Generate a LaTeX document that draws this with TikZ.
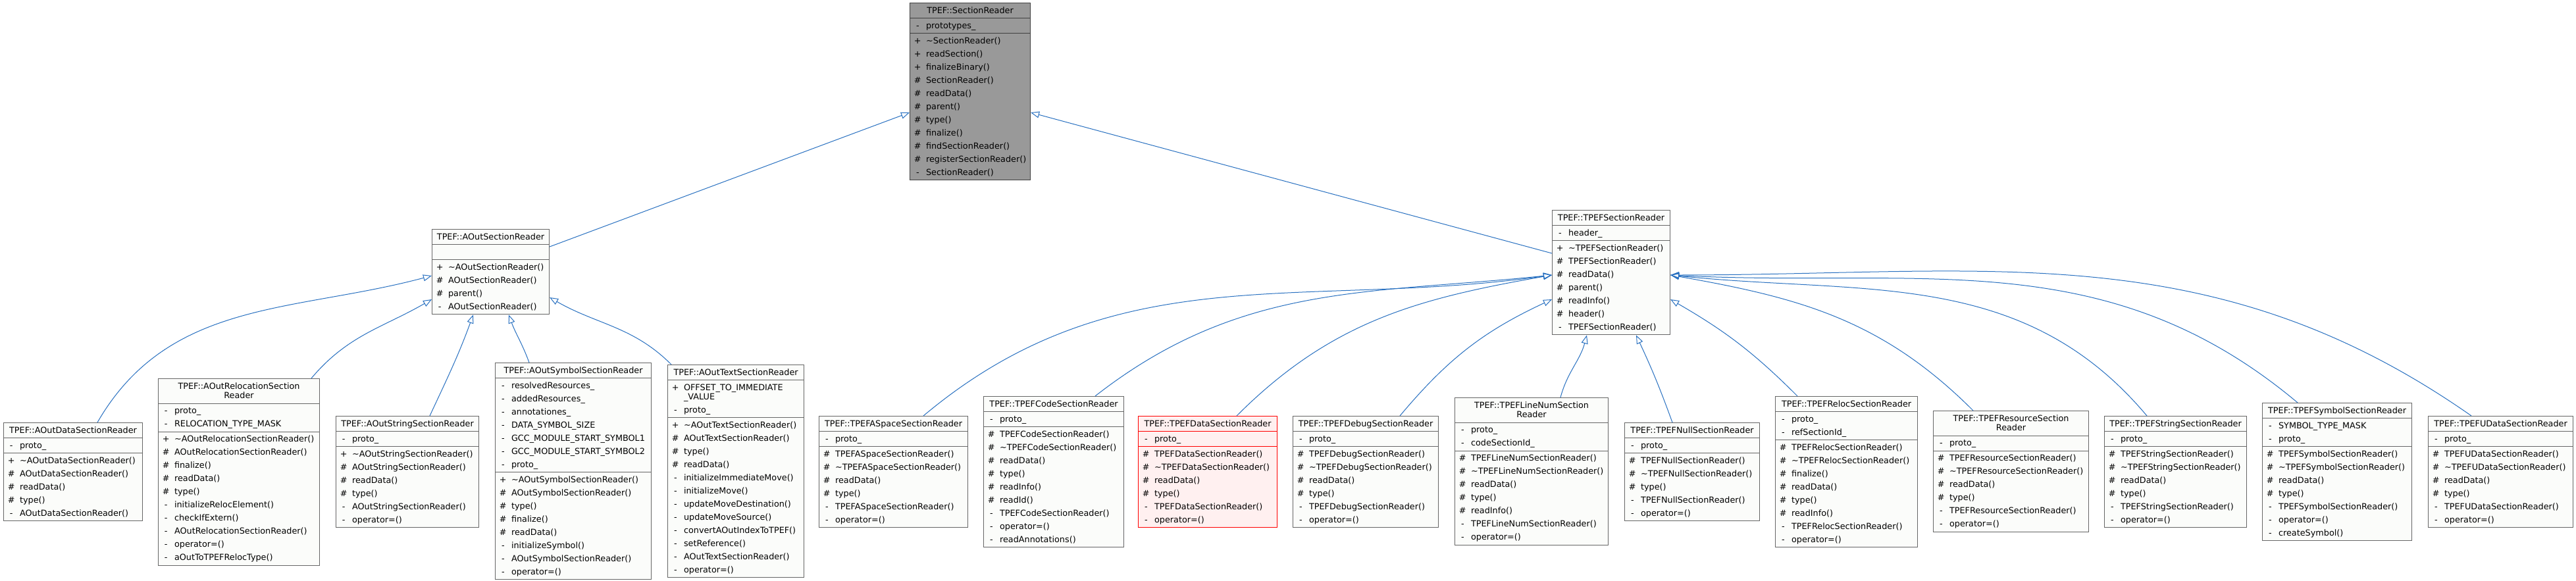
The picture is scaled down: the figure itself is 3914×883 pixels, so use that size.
\documentclass[tikz,border=0pt]{standalone}
\usepackage{fontspec}
\setmainfont{DejaVu Sans}
\usetikzlibrary{arrows.meta, shapes.multipart, calc}

\definecolor{boxline}{RGB}{102,102,102}
\definecolor{boxfill}{RGB}{251,252,250}
\definecolor{baseedge}{RGB}{64,64,64}
\definecolor{basefill}{RGB}{153,153,153}
\definecolor{hilite}{RGB}{255,0,0}
\definecolor{hilitefill}{RGB}{255,240,240}
\definecolor{inhblue}{RGB}{40,112,192}

\newcommand\mlist[1]{\begin{tabular}{@{}l@{}}#1\end{tabular}}
\newcommand\ctitle[1]{\begin{tabular}{@{}c@{}}#1\end{tabular}}
\newcommand\memrow[2]{\makebox[7.75pt][c]{#1}\hspace{2.5pt}#2}
\newcommand\mpub[1]{\memrow{+}{#1}}
\newcommand\mpro[1]{\memrow{\#}{#1}}
\newcommand\mpri[1]{\memrow{-}{#1}}
\newcommand\tld{\textasciitilde}

\tikzset{
	classbox/.style={rectangle split, rectangle split parts=3,
		rectangle split part align={center,left,left}, draw=boxline, fill=boxfill,
		line width=0.55pt, inner xsep=2pt, inner ysep=0.5pt, anchor=north west,
		font=\fontsize{6.4}{10}\selectfont},
	baseclass/.style={classbox, draw=baseedge, fill=basefill},
	current/.style={classbox, draw=hilite, fill=hilitefill},
	inherit/.style={draw=inhblue, line width=0.5pt, -{Triangle[open, length=6.5pt, width=5pt]}}
}

\begin{document}
\begin{tikzpicture}[x=0.5pt, y=0.5pt]
	\useasboundingbox (0,0) rectangle (3914,-883);

	% Root class
	\node[baseclass, minimum width=91.5pt] (secRd) at (1382,-4) {\ctitle{TPEF::SectionReader}
		\nodepart{two}\mlist{\mpri{prototypes\_}}
		\nodepart{three}\mlist{\mpub{\tld SectionReader()}\\ \mpub{readSection()}\\ \mpub{finalizeBinary()}\\
			\mpro{SectionReader()}\\ \mpro{readData()}\\ \mpro{parent()}\\ \mpro{type()}\\ \mpro{finalize()}\\
			\mpro{findSectionReader()}\\ \mpro{registerSectionReader()}\\ \mpri{SectionReader()}}};

	% Middle layer
	\node[classbox, minimum width=89pt] (aoutRd) at (656,-348) {\ctitle{TPEF::AOutSectionReader}
		\nodepart{two}\mlist{\mbox{}}
		\nodepart{three}\mlist{\mpub{\tld AOutSectionReader()}\\ \mpro{AOutSectionReader()}\\ \mpro{parent()}\\
			\mpri{AOutSectionReader()}}};
	\node[classbox, minimum width=89.5pt] (tpefRd) at (2358,-319) {\ctitle{TPEF::TPEFSectionReader}
		\nodepart{two}\mlist{\mpri{header\_}}
		\nodepart{three}\mlist{\mpub{\tld TPEFSectionReader()}\\ \mpro{TPEFSectionReader()}\\ \mpro{readData()}\\
			\mpro{parent()}\\ \mpro{readInfo()}\\ \mpro{header()}\\ \mpri{TPEFSectionReader()}}};

	% AOut readers
	\node[classbox, minimum width=105.5pt] (aoutData) at (5,-642) {\ctitle{TPEF::AOutDataSectionReader}
		\nodepart{two}\mlist{\mpri{proto\_}}
		\nodepart{three}\mlist{\mpub{\tld AOutDataSectionReader()}\\ \mpro{AOutDataSectionReader()}\\ \mpro{readData()}\\
			\mpro{type()}\\ \mpri{AOutDataSectionReader()}}};
	\node[classbox, minimum width=122.5pt] (aoutReloc) at (240,-575) {\ctitle{TPEF::AOutRelocationSection\\[-2.75pt] Reader}
		\nodepart{two}\mlist{\mpri{proto\_}\\ \mpri{RELOCATION\_TYPE\_MASK}}
		\nodepart{three}\mlist{\mpub{\tld AOutRelocationSectionReader()}\\ \mpro{AOutRelocationSectionReader()}\\
			\mpro{finalize()}\\ \mpro{readData()}\\ \mpro{type()}\\ \mpri{initializeRelocElement()}\\ \mpri{checkIfExtern()}\\
			\mpri{AOutRelocationSectionReader()}\\ \mpri{operator=()}\\ \mpri{aOutToTPEFRelocType()}}};
	\node[classbox, minimum width=108.5pt] (aoutString) at (510,-632) {\ctitle{TPEF::AOutStringSectionReader}
		\nodepart{two}\mlist{\mpri{proto\_}}
		\nodepart{three}\mlist{\mpub{\tld AOutStringSectionReader()}\\ \mpro{AOutStringSectionReader()}\\ \mpro{readData()}\\
			\mpro{type()}\\ \mpri{AOutStringSectionReader()}\\ \mpri{operator=()}}};
	\node[classbox, minimum width=118.5pt] (aoutSymbol) at (752,-551) {\ctitle{TPEF::AOutSymbolSectionReader}
		\nodepart{two}\mlist{\mpri{resolvedResources\_}\\ \mpri{addedResources\_}\\ \mpri{annotationes\_}\\
			\mpri{DATA\_SYMBOL\_SIZE}\\ \mpri{GCC\_MODULE\_START\_SYMBOL1}\\ \mpri{GCC\_MODULE\_START\_SYMBOL2}\\ \mpri{proto\_}}
		\nodepart{three}\mlist{\mpub{\tld AOutSymbolSectionReader()}\\ \mpro{AOutSymbolSectionReader()}\\ \mpro{type()}\\
			\mpro{finalize()}\\ \mpro{readData()}\\ \mpri{initializeSymbol()}\\ \mpri{AOutSymbolSectionReader()}\\ \mpri{operator=()}}};
	\node[classbox, minimum width=103.5pt] (aoutText) at (1014,-554) {\ctitle{TPEF::AOutTextSectionReader}
		\nodepart{two}\mlist{\mpub{OFFSET\_TO\_IMMEDIATE}\\[-3pt] \memrow{}{\_VALUE}\\ \mpri{proto\_}}
		\nodepart{three}\mlist{\mpub{\tld AOutTextSectionReader()}\\ \mpro{AOutTextSectionReader()}\\ \mpro{type()}\\
			\mpro{readData()}\\ \mpri{initializeImmediateMove()}\\ \mpri{initializeMove()}\\ \mpri{updateMoveDestination()}\\
			\mpri{updateMoveSource()}\\ \mpri{convertAOutIndexToTPEF()}\\ \mpri{setReference()}\\
			\mpri{AOutTextSectionReader()}\\ \mpri{operator=()}}};

	% TPEF readers
	\node[classbox, minimum width=113pt] (tpefASpace) at (1244,-632) {\ctitle{TPEF::TPEFASpaceSectionReader}
		\nodepart{two}\mlist{\mpri{proto\_}}
		\nodepart{three}\mlist{\mpro{TPEFASpaceSectionReader()}\\ \mpro{\tld TPEFASpaceSectionReader()}\\ \mpro{readData()}\\
			\mpro{type()}\\ \mpri{TPEFASpaceSectionReader()}\\ \mpri{operator=()}}};
	\node[classbox, minimum width=106.5pt] (tpefCode) at (1494,-602) {\ctitle{TPEF::TPEFCodeSectionReader}
		\nodepart{two}\mlist{\mpri{proto\_}}
		\nodepart{three}\mlist{\mpro{TPEFCodeSectionReader()}\\ \mpro{\tld TPEFCodeSectionReader()}\\ \mpro{readData()}\\
			\mpro{type()}\\ \mpro{readInfo()}\\ \mpro{readId()}\\ \mpri{TPEFCodeSectionReader()}\\ \mpri{operator=()}\\
			\mpri{readAnnotations()}}};
	\node[current, minimum width=105.5pt] (tpefData) at (1729,-632) {\ctitle{TPEF::TPEFDataSectionReader}
		\nodepart{two}\mlist{\mpri{proto\_}}
		\nodepart{three}\mlist{\mpro{TPEFDataSectionReader()}\\ \mpro{\tld TPEFDataSectionReader()}\\ \mpro{readData()}\\
			\mpro{type()}\\ \mpri{TPEFDataSectionReader()}\\ \mpri{operator=()}}};
	\node[classbox, minimum width=110.5pt] (tpefDebug) at (1964,-632) {\ctitle{TPEF::TPEFDebugSectionReader}
		\nodepart{two}\mlist{\mpri{proto\_}}
		\nodepart{three}\mlist{\mpro{TPEFDebugSectionReader()}\\ \mpro{\tld TPEFDebugSectionReader()}\\ \mpro{readData()}\\
			\mpro{type()}\\ \mpri{TPEFDebugSectionReader()}\\ \mpri{operator=()}}};
	\node[classbox, minimum width=116.5pt] (tpefLineNum) at (2210,-604) {\ctitle{TPEF::TPEFLineNumSection\\[-2.75pt] Reader}
		\nodepart{two}\mlist{\mpri{proto\_}\\ \mpri{codeSectionId\_}}
		\nodepart{three}\mlist{\mpro{TPEFLineNumSectionReader()}\\ \mpro{\tld TPEFLineNumSectionReader()}\\ \mpro{readData()}\\
			\mpro{type()}\\ \mpro{readInfo()}\\ \mpri{TPEFLineNumSectionReader()}\\ \mpri{operator=()}}};
	\node[classbox, minimum width=102.5pt] (tpefNull) at (2468,-642) {\ctitle{TPEF::TPEFNullSectionReader}
		\nodepart{two}\mlist{\mpri{proto\_}}
		\nodepart{three}\mlist{\mpro{TPEFNullSectionReader()}\\ \mpro{\tld TPEFNullSectionReader()}\\ \mpro{type()}\\
			\mpri{TPEFNullSectionReader()}\\ \mpri{operator=()}}};
	\node[classbox, minimum width=108pt] (tpefReloc) at (2697,-602) {\ctitle{TPEF::TPEFRelocSectionReader}
		\nodepart{two}\mlist{\mpri{proto\_}\\ \mpri{refSectionId\_}}
		\nodepart{three}\mlist{\mpro{TPEFRelocSectionReader()}\\ \mpro{\tld TPEFRelocSectionReader()}\\ \mpro{finalize()}\\
			\mpro{readData()}\\ \mpro{type()}\\ \mpro{readInfo()}\\ \mpri{TPEFRelocSectionReader()}\\ \mpri{operator=()}}};
	\node[classbox, minimum width=118pt] (tpefResource) at (2937,-624) {\ctitle{TPEF::TPEFResourceSection\\[-2.75pt] Reader}
		\nodepart{two}\mlist{\mpri{proto\_}}
		\nodepart{three}\mlist{\mpro{TPEFResourceSectionReader()}\\ \mpro{\tld TPEFResourceSectionReader()}\\ \mpro{readData()}\\
			\mpro{type()}\\ \mpri{TPEFResourceSectionReader()}\\ \mpri{operator=()}}};
	\node[classbox, minimum width=108pt] (tpefString) at (3197,-632) {\ctitle{TPEF::TPEFStringSectionReader}
		\nodepart{two}\mlist{\mpri{proto\_}}
		\nodepart{three}\mlist{\mpro{TPEFStringSectionReader()}\\ \mpro{\tld TPEFStringSectionReader()}\\ \mpro{readData()}\\
			\mpro{type()}\\ \mpri{TPEFStringSectionReader()}\\ \mpri{operator=()}}};
	\node[classbox, minimum width=113.5pt] (tpefSymbol) at (3437,-612) {\ctitle{TPEF::TPEFSymbolSectionReader}
		\nodepart{two}\mlist{\mpri{SYMBOL\_TYPE\_MASK}\\ \mpri{proto\_}}
		\nodepart{three}\mlist{\mpro{TPEFSymbolSectionReader()}\\ \mpro{\tld TPEFSymbolSectionReader()}\\ \mpro{readData()}\\
			\mpro{type()}\\ \mpri{TPEFSymbolSectionReader()}\\ \mpri{operator=()}\\ \mpri{createSymbol()}}};
	\node[classbox, minimum width=110pt] (tpefUData) at (3689,-632) {\ctitle{TPEF::TPEFUDataSectionReader}
		\nodepart{two}\mlist{\mpri{proto\_}}
		\nodepart{three}\mlist{\mpro{TPEFUDataSectionReader()}\\ \mpro{\tld TPEFUDataSectionReader()}\\ \mpro{readData()}\\
			\mpro{type()}\\ \mpri{TPEFUDataSectionReader()}\\ \mpri{operator=()}}};

	% Inheritance to the root
	\draw[inherit] ($(aoutRd.north east)+(0,-27)$) -- ($(secRd.north west)+(0,-167)$);
	\draw[inherit] ($(tpefRd.north west)+(0,-66)$) -- ($(secRd.north east)+(0,-167)$);

	% Inheritance to AOutSectionReader
	\draw[inherit] ($(aoutData.north west)+(143,0)$) to[out=60, in=195] ($(aoutRd.north west)+(0,-71)$);
	\draw[inherit] ($(aoutReloc.north west)+(233,0)$) to[out=50, in=210] ($(aoutRd.north west)+(0,-107)$);
	\draw[inherit] ($(aoutString.north west)+(143,0)$) to[out=65, in=-110] ($(aoutRd.south west)+(63,0)$);
	\draw[inherit] ($(aoutSymbol.north west)+(52,0)$) to[out=110, in=-70] ($(aoutRd.south west)+(117,0)$);
	\draw[inherit] ($(aoutText.north west)+(6,0)$) to[out=135, in=-30] ($(aoutRd.north east)+(0,-104)$);

	% Inheritance to TPEFSectionReader
	\foreach \c/\dx/\o/\i in {tpefASpace/159/40/188, tpefCode/170/38/186, tpefData/150/45/190}
		\draw[inherit] ($(\c.north west)+(\dx,0)$) to[out=\o, in=\i] ($(tpefRd.north west)+(0,-99)$);
	\draw[inherit] ($(tpefDebug.north west)+(163,0)$) to[out=50, in=205] ($(tpefRd.north west)+(0,-136)$);
	\draw[inherit] ($(tpefLineNum.north west)+(161,0)$) to[out=75, in=-105] ($(tpefRd.south west)+(53,0)$);
	\draw[inherit] ($(tpefNull.north west)+(73,0)$) to[out=110, in=-65] ($(tpefRd.south west)+(128,0)$);
	\draw[inherit] ($(tpefReloc.north west)+(34,0)$) to[out=135, in=-30] ($(tpefRd.north east)+(0,-136)$);
	\foreach \c/\dx/\o/\i in {tpefResource/61/135/-10, tpefString/65/130/-6, tpefSymbol/54/140/-3, tpefUData/66/145/0}
		\draw[inherit] ($(\c.north west)+(\dx,0)$) to[out=\o, in=\i] ($(tpefRd.north east)+(0,-99)$);
\end{tikzpicture}
\end{document}
